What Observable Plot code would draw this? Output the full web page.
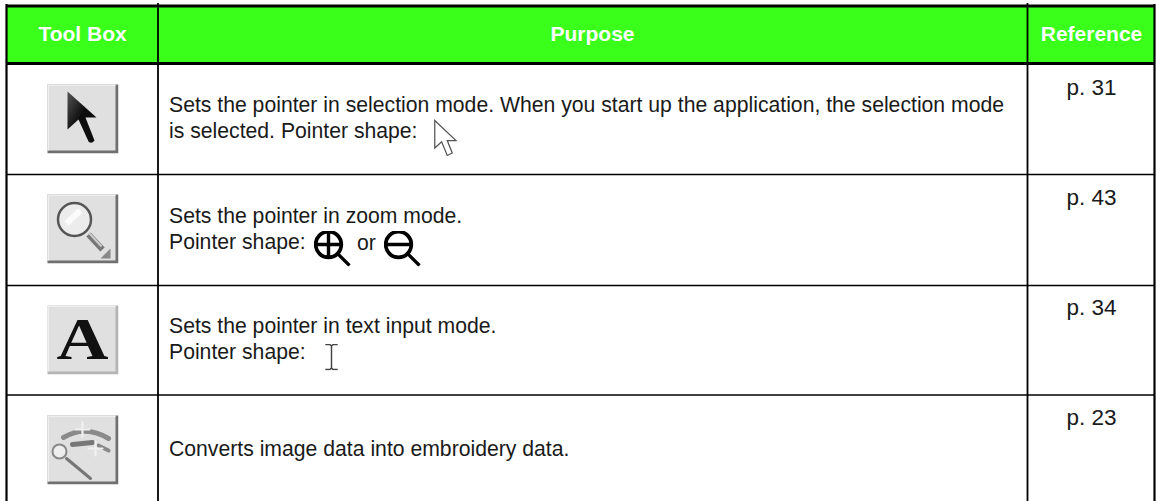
<!DOCTYPE html>
<html><head><meta charset="utf-8">
<style>html,body{margin:0;padding:0;background:#fff}svg{display:block}</style>
<script src="https://cdn.jsdelivr.net/npm/d3@7"></script>
<script src="https://cdn.jsdelivr.net/npm/@observablehq/plot@0.6"></script>
</head><body><div id="c"></div>
<script>
const headers = ["Tool Box","Purpose","Reference"];
const purposes = [
 "Sets the pointer in selection mode. When you start up the application, the selection mode\nis selected. Pointer shape:",
 "Sets the pointer in zoom mode.\nPointer shape:",
 "Sets the pointer in text input mode.\nPointer shape:",
 "Converts image data into embroidery data."
];
const references = ["p. 31","p. 43","p. 34","p. 23"];
const orWord = "or";
const colEdges = [6,157.5,1027,1154];
const rowEdges = [5.5,63,174,285,394.5,501];

const svg = s => "data:image/svg+xml," + encodeURIComponent(`<svg xmlns="http://www.w3.org/2000/svg" viewBox="0 0 72 70" width="72" height="70">${s}</svg>`);
const btn = (dark="#6f6f6f") => `<defs><filter id="b"><feGaussianBlur stdDeviation="0.5"/></filter><linearGradient id="g" x1="0" y1="0" x2="1" y2="1"><stop offset="0" stop-color="#555"/><stop offset=".45" stop-color="#111"/></linearGradient></defs><rect x="1" y="1" width="71" height="69" fill="${dark}"/><rect x="1" y="1" width="68" height="66" fill="#e0e0e0"/><path d="M1 1H69V2.5H2.5V67H1Z" fill="#eee"/>`;
const icons = [
 svg(btn()+`<g filter="url(#b)"><path d="M21 8V46L32 36L42 58Q45 61 48 57L39 34H50Z" fill="url(#g)"/></g>`),
 svg(btn()+`<g filter="url(#b)"><circle cx="28" cy="26" r="16.5" fill="#ececec" stroke="#555" stroke-width="2.5"/><path d="M20 30L34 17" stroke="#fff" stroke-width="6" opacity=".8"/><path d="M42 41L56 56" stroke="#777" stroke-width="6"/><path d="M43 40L55 53" stroke="#ccc" stroke-width="2"/><path d="M64 55V65H54Z" fill="#888"/></g>`),
 `data:image/svg+xml,` + encodeURIComponent(`<svg xmlns="http://www.w3.org/2000/svg" viewBox="0 0 72 70" width="72" height="70">${btn("#b5b5b5")}<g transform="translate(36 54) scale(1.2 1)"><text text-anchor="middle" font-family="Liberation Serif,serif" font-weight="bold" font-size="60" fill="#111">A</text></g></svg>`),
 svg(btn()+`<g filter="url(#b)" fill="none" stroke-linecap="round"><path d="M17 23Q39 10 62 24" stroke="#8a8a8a" stroke-width="5"/><path d="M26 30L46 28" stroke="#777" stroke-width="5"/><path d="M52 31L62 36" stroke="#888" stroke-width="4"/><path d="M36 8V22M29 15H43M49 27V41M42 34H56" stroke="#f0f0f0" stroke-width="2.2"/><circle cx="13" cy="37" r="7" fill="#eee" stroke="#888" stroke-width="2"/><path d="M20 44L44 64" stroke="#777" stroke-width="3"/></g>`)
];
const zoomCursor = minus => `<svg xmlns="http://www.w3.org/2000/svg" viewBox="0 0 38 36" width="38" height="36"><circle cx="15" cy="14" r="12.8" fill="none" stroke="#000" stroke-width="3.8"/><path d="${minus?"M2 14H28":"M2 14H28M15 1V27"}" stroke="#000" stroke-width="3.4"/><path d="M24 23L36 35" stroke="#000" stroke-width="3.2"/></svg>`;
const uri = s => "data:image/svg+xml," + encodeURIComponent(s);
const arrowCursor = uri(`<svg xmlns="http://www.w3.org/2000/svg" viewBox="0 0 22 32" width="22" height="32"><path d="M2 2V24L7.5 19L12 30L16 28L12 18H19Z" fill="#fff" stroke="#555" stroke-width="1"/></svg>`);
const ibeam = uri(`<svg xmlns="http://www.w3.org/2000/svg" viewBox="0 0 14 26" width="14" height="26"><path d="M1 1H5.5L7 2.5L8.5 1H13M7 2.5V23.5M1 25H5.5L7 23.5L8.5 25H13" fill="none" stroke="#444" stroke-width="1.4"/></svg>`);

const rows = purposes.map((p,i)=>({p, ref:references[i], icon:icons[i]}));
const font = "Liberation Sans, Arial, Helvetica, sans-serif";

const plot = Plot.plot({
  width:1156,height:501,margin:0,
  x:{domain:[0,1156],range:[0,1156],axis:null},
  y:{domain:[0,501],range:[0,501],axis:null},
  style:{fontFamily:font,background:"#fff"},
  marks:[
    Plot.rect([0],{x1:colEdges[0],x2:colEdges[3],y1:rowEdges[0],y2:rowEdges[1],fill:"#39ff1a"}),
    Plot.text(headers,{x:(d,i)=>[82,592,1091][i],y:()=>33.5,text:d=>d,fill:"#fff",fontWeight:"bold",fontSize:21}),
    Plot.image(rows,{x:()=>82,y:(d,i)=>[118,228,339,449][i],width:72,height:70,src:"icon",preserveAspectRatio:"none"}),
    Plot.text(rows,{x:()=>168.5,y:(d,i)=>[116,227.5,337,447.5][i],text:"p",textAnchor:"start",lineHeight:1.23,fontSize:21.2,fill:"#1a1a1a"}),
    Plot.text(rows,{x:()=>1091,y:(d,i)=>[87.5,197.5,307.5,417.5][i],text:"ref",fontSize:22.5,fill:"#1a1a1a"}),
    Plot.image([arrowCursor],{x:()=>445.5,y:()=>137.5,width:27.5,height:40,src:d=>d}),
    Plot.image([uri(zoomCursor(false))],{x:()=>332,y:()=>248,width:38,height:36,src:d=>d}),
    Plot.text([orWord],{x:()=>366,y:()=>243,text:d=>d,fontSize:21.2,fill:"#1a1a1a"}),
    Plot.image([uri(zoomCursor(true))],{x:()=>402,y:()=>248,width:38,height:36,src:d=>d}),
    Plot.image([ibeam],{x:()=>331,y:()=>356.5,width:14.5,height:27,src:d=>d,preserveAspectRatio:"none"}),
    Plot.ruleX(colEdges,{y1:(d,i)=>i==1||i==2?3:4,y2:501,stroke:"#000",strokeWidth:(d,i)=>i==1?1.8:i==2?1.8:2.2}),
    Plot.ruleY(rowEdges.slice(0,5),{x1:colEdges[0],x2:colEdges[3],stroke:"#000",strokeWidth:(d,i)=>i<2?2.8:1.7})
  ]
});
document.getElementById("c").append(plot);
</script></body></html>
